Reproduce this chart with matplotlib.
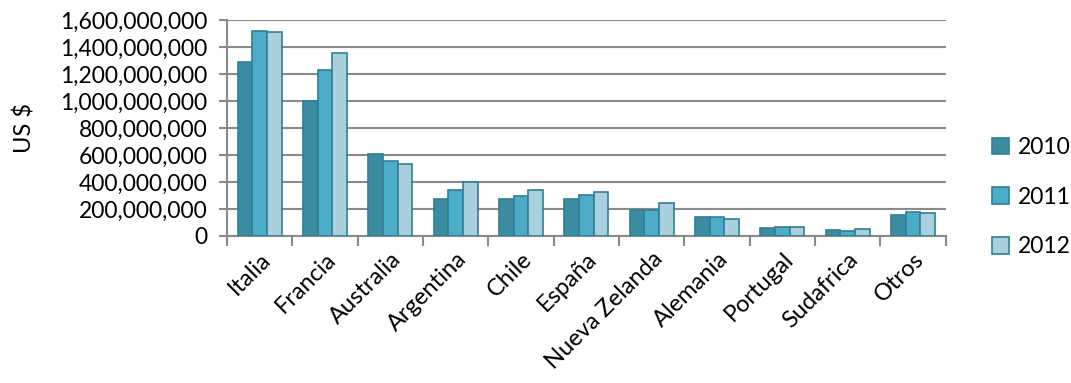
import matplotlib.pyplot as plt
import numpy as np
from matplotlib.ticker import FuncFormatter, MultipleLocator

paises = ["Italia", "Francia", "Australia", "Argentina", "Chile", "España",
          "Nueva Zelanda", "Alemania", "Portugal", "Sudafrica", "Otros"]
anios = ["2010", "2011", "2012"]
v2010 = [1285e6, 996e6, 606e6, 272e6, 275e6, 272e6, 195e6, 138e6, 62e6, 42e6, 158e6]
v2011 = [1520e6, 1231e6, 554e6, 341e6, 295e6, 305e6, 195e6, 140e6, 68e6, 40e6, 180e6]
v2012 = [1508e6, 1352e6, 531e6, 403e6, 340e6, 328e6, 245e6, 122e6, 65e6, 55e6, 170e6]

colores = ["#3C8CA2", "#4BADC7", "#AACFDD"]
borde = "#2F7F95"

plt.rcParams['font.family'] = ['Lato', 'DejaVu Sans']

fig = plt.figure(figsize=(10.71, 3.83), dpi=100)
ax = fig.add_axes([0.212, 0.384, 0.671, 0.564])

x = np.arange(len(paises))
w = 0.225
for i, (vals, c) in enumerate(zip([v2010, v2011, v2012], colores)):
    ax.bar(x + (i - 1) * w, vals, w, color=c, edgecolor=borde, linewidth=1.2,
           label=anios[i], zorder=3)

ax.set_xlim(-0.5, len(paises) - 0.5)
ax.set_ylim(0, 1.6e9)
ax.yaxis.set_major_locator(MultipleLocator(2e8))
ax.yaxis.set_major_formatter(FuncFormatter(lambda v, p: f"{v:,.0f}"))
ax.grid(axis='y', color='#8a8a8a', linewidth=1.5, zorder=0)

for s in ['top', 'right']:
    ax.spines[s].set_visible(False)
for s in ['left', 'bottom']:
    ax.spines[s].set_color('#8a8a8a')
    ax.spines[s].set_linewidth(1.5)

# ticks between categories on x, labels at the centres
ax.set_xticks(np.arange(len(paises) + 1) - 0.5)
ax.set_xticklabels([])
ax.set_xticks(x, minor=True)
ax.set_xticklabels(paises, minor=True, rotation=45, ha='right',
                   rotation_mode='anchor', fontsize=17)
ax.tick_params(axis='x', which='major', length=7, width=1.5, color='#8a8a8a')
ax.tick_params(axis='x', which='minor', length=0, pad=9)
ax.tick_params(axis='y', length=6, width=1.5, color='#8a8a8a', labelsize=16.5, pad=8)

ax.set_ylabel("US $", fontsize=17, labelpad=18)

ax.legend(loc='center left', bbox_to_anchor=(1.0, 0.18), frameon=False,
          fontsize=16.5, handlelength=0.75, handleheight=0.75, labelspacing=1.25,
          handletextpad=0.4, borderaxespad=1.6)

fig.savefig("out.png", dpi=100)
